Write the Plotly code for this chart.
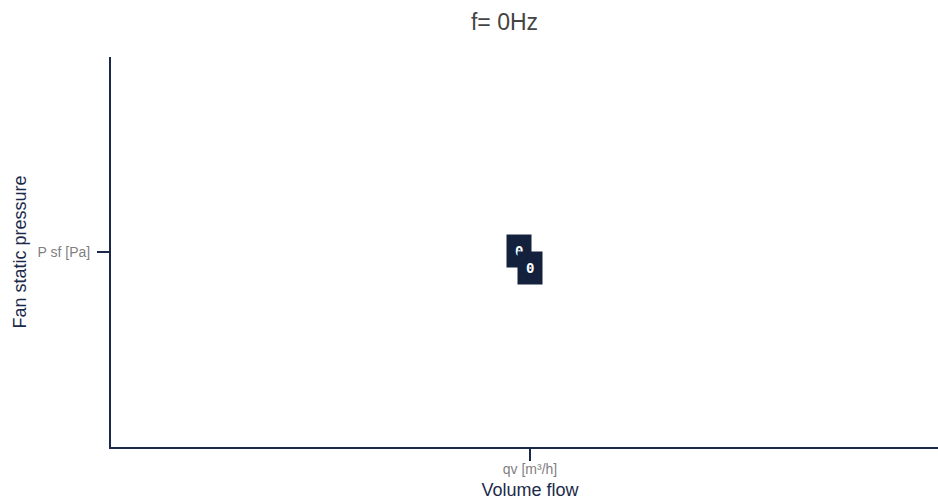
import plotly.graph_objects as go

# empty fan-curve state: only the origin point is labelled
freq_hz = 0
x_tick_vals = [0]
x_tick_text = ["qv [m³/h]"]
y_tick_vals = [0]
y_tick_text = ["P sf [Pa]"]
point_x = [0, 0]
point_y = [0, 0]
point_labels = ["0", "0"]

x_range = [-1, 1]
y_range = [-1, 1]

axis_col = "#1c2a4a"
box_col = "#14213d"

fig = go.Figure()
fig.add_trace(go.Scatter(x=point_x, y=point_y, mode="markers",
                         marker=dict(size=1, color="rgba(0,0,0,0)"),
                         hoverinfo="skip", showlegend=False))

# label boxes, offset so they overlap like in the original
shifts = [(-11, 1.5), (0, -15.5)]
for xv, yv, txt, (dx, dy) in zip(point_x, point_y, point_labels, shifts):
    fig.add_annotation(x=xv, y=yv, text=txt, showarrow=False,
                       xshift=dx, yshift=dy,
                       bgcolor=box_col, borderpad=8,
                       font=dict(family="DejaVu Sans Mono", size=14, color="white", weight="bold"))

# figure is wider than the window; the right part is cut off like in the original
fig.update_layout(
    width=1009, height=500,
    title=dict(text="f= " + str(freq_hz) + "Hz", x=0.5, xanchor="center",
               y=0.956, yanchor="middle",
               font=dict(family="Arial", size=23, color="#444")),
    font=dict(family="Arial"),
    plot_bgcolor="white", paper_bgcolor="white",
    margin=dict(l=111, r=60, t=57, b=53),
    xaxis=dict(range=x_range, tickvals=x_tick_vals, ticktext=x_tick_text,
               showgrid=False, zeroline=False, showline=True, linecolor=axis_col,
               linewidth=2, ticks="outside", ticklen=12, tickcolor=axis_col, tickwidth=2,
               tickfont=dict(size=14, color="#7f7f7f"), automargin=False,
               ticklabelstandoff=-4,
               title=dict(text="Volume flow", font=dict(size=18, color=axis_col), standoff=10)),
    yaxis=dict(range=y_range, tickvals=y_tick_vals, ticktext=y_tick_text,
               showgrid=False, zeroline=False, showline=True, linecolor=axis_col,
               linewidth=2, ticks="outside", ticklen=12, tickcolor=axis_col, tickwidth=2,
               tickfont=dict(size=14, color="#7f7f7f"), automargin=False,
               ticklabelstandoff=4,
               title=dict(text="Fan static pressure", font=dict(size=18, color=axis_col), standoff=6)),
)

# drop the page margin and scrollbars so the figure sits at the window origin
fig.write_html("out.html", config={"displayModeBar": False},
               post_script="document.body.style.margin='0';document.body.style.overflow='hidden';")
